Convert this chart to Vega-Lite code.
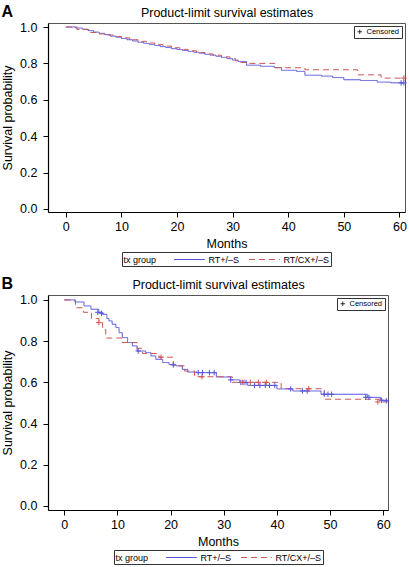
{
  "$schema": "https://vega.github.io/schema/vega-lite/v6.json",
  "padding": {"left": 1, "top": 3, "right": 0, "bottom": 0},
  "background": "white",
  "config": {
    "font": "Liberation Sans",
    "view": {"stroke": "#555", "strokeWidth": 1},
    "axis": {"domainColor": "#000", "tickColor": "#000", "labelColor": "#000", "titleColor": "#000", "labelFontSize": 12.5, "titleFontSize": 12.5, "titleFontWeight": "normal", "grid": false, "tickSize": 5, "domainWidth": 1.2},
    "axisY": {"labelPadding": 6, "titlePadding": 5},
    "axisX": {"labelPadding": 3, "titlePadding": 5},
    "legend": {"layout": {"bottom": {"anchor": "middle"}}},
    "title": {"fontSize": 16, "fontWeight": "bold", "anchor": "start", "frame": "bounds", "color": "#000"},
    "concat": {"spacing": 8}
  },
  "datasets": {
    "A_steps": [
      {"g": "RT+/–S", "m": 0, "s": 1.0}, {"g": "RT+/–S", "m": 1.8, "s": 0.994}, {"g": "RT+/–S", "m": 3, "s": 0.988}, {"g": "RT+/–S", "m": 4, "s": 0.98}, {"g": "RT+/–S", "m": 5, "s": 0.972}, {"g": "RT+/–S", "m": 6, "s": 0.965}, {"g": "RT+/–S", "m": 7, "s": 0.958}, {"g": "RT+/–S", "m": 8, "s": 0.95}, {"g": "RT+/–S", "m": 9, "s": 0.944}, {"g": "RT+/–S", "m": 10, "s": 0.937}, {"g": "RT+/–S", "m": 11, "s": 0.93}, {"g": "RT+/–S", "m": 12, "s": 0.923}, {"g": "RT+/–S", "m": 13, "s": 0.916}, {"g": "RT+/–S", "m": 14, "s": 0.91}, {"g": "RT+/–S", "m": 15, "s": 0.904}, {"g": "RT+/–S", "m": 16, "s": 0.898}, {"g": "RT+/–S", "m": 17, "s": 0.892}, {"g": "RT+/–S", "m": 18, "s": 0.887}, {"g": "RT+/–S", "m": 19, "s": 0.881}, {"g": "RT+/–S", "m": 20, "s": 0.876}, {"g": "RT+/–S", "m": 21, "s": 0.871}, {"g": "RT+/–S", "m": 22, "s": 0.866}, {"g": "RT+/–S", "m": 23, "s": 0.861}, {"g": "RT+/–S", "m": 24, "s": 0.856}, {"g": "RT+/–S", "m": 25, "s": 0.85}, {"g": "RT+/–S", "m": 26, "s": 0.845}, {"g": "RT+/–S", "m": 27, "s": 0.839}, {"g": "RT+/–S", "m": 28, "s": 0.833}, {"g": "RT+/–S", "m": 29, "s": 0.826}, {"g": "RT+/–S", "m": 30, "s": 0.818}, {"g": "RT+/–S", "m": 31, "s": 0.81}, {"g": "RT+/–S", "m": 32.5, "s": 0.79}, {"g": "RT+/–S", "m": 35, "s": 0.784}, {"g": "RT+/–S", "m": 37.5, "s": 0.777}, {"g": "RT+/–S", "m": 38.8, "s": 0.762}, {"g": "RT+/–S", "m": 41.5, "s": 0.756}, {"g": "RT+/–S", "m": 43, "s": 0.735}, {"g": "RT+/–S", "m": 46, "s": 0.73}, {"g": "RT+/–S", "m": 48, "s": 0.722}, {"g": "RT+/–S", "m": 50, "s": 0.71}, {"g": "RT+/–S", "m": 53, "s": 0.706}, {"g": "RT+/–S", "m": 56, "s": 0.697}, {"g": "RT+/–S", "m": 58.5, "s": 0.693}, {"g": "RT+/–S", "m": 60.8, "s": 0.693},
      {"g": "RT/CX+/–S", "m": 0, "s": 1.0}, {"g": "RT/CX+/–S", "m": 2, "s": 0.986}, {"g": "RT/CX+/–S", "m": 4.3, "s": 0.97}, {"g": "RT/CX+/–S", "m": 5.5, "s": 0.962}, {"g": "RT/CX+/–S", "m": 7, "s": 0.956}, {"g": "RT/CX+/–S", "m": 8.5, "s": 0.948}, {"g": "RT/CX+/–S", "m": 10, "s": 0.94}, {"g": "RT/CX+/–S", "m": 11.5, "s": 0.93}, {"g": "RT/CX+/–S", "m": 13, "s": 0.921}, {"g": "RT/CX+/–S", "m": 14.5, "s": 0.912}, {"g": "RT/CX+/–S", "m": 16, "s": 0.903}, {"g": "RT/CX+/–S", "m": 17.5, "s": 0.895}, {"g": "RT/CX+/–S", "m": 19, "s": 0.886}, {"g": "RT/CX+/–S", "m": 20.5, "s": 0.877}, {"g": "RT/CX+/–S", "m": 22, "s": 0.869}, {"g": "RT/CX+/–S", "m": 23.5, "s": 0.86}, {"g": "RT/CX+/–S", "m": 25, "s": 0.852}, {"g": "RT/CX+/–S", "m": 26.5, "s": 0.845}, {"g": "RT/CX+/–S", "m": 28, "s": 0.836}, {"g": "RT/CX+/–S", "m": 29.5, "s": 0.826}, {"g": "RT/CX+/–S", "m": 30.5, "s": 0.815}, {"g": "RT/CX+/–S", "m": 31.5, "s": 0.805}, {"g": "RT/CX+/–S", "m": 33, "s": 0.8}, {"g": "RT/CX+/–S", "m": 37.6, "s": 0.776}, {"g": "RT/CX+/–S", "m": 43, "s": 0.765}, {"g": "RT/CX+/–S", "m": 52.5, "s": 0.737}, {"g": "RT/CX+/–S", "m": 56.7, "s": 0.719}, {"g": "RT/CX+/–S", "m": 60.8, "s": 0.719}
    ],
    "A_cens": [
      {"g": "RT+/–S", "c": "Censored", "m": 60.3, "s": 0.693}, {"g": "RT+/–S", "c": "Censored", "m": 60.8, "s": 0.693}, {"g": "RT/CX+/–S", "c": "Censored", "m": 60.8, "s": 0.719}
    ],
    "B_steps": [
      {"g": "RT+/–S", "m": 0, "s": 1.0}, {"g": "RT+/–S", "m": 2, "s": 0.99}, {"g": "RT+/–S", "m": 3.7, "s": 0.971}, {"g": "RT+/–S", "m": 5, "s": 0.955}, {"g": "RT+/–S", "m": 6.5, "s": 0.94}, {"g": "RT+/–S", "m": 7.2, "s": 0.93}, {"g": "RT+/–S", "m": 8, "s": 0.91}, {"g": "RT+/–S", "m": 8.4, "s": 0.898}, {"g": "RT+/–S", "m": 9, "s": 0.882}, {"g": "RT+/–S", "m": 9.7, "s": 0.866}, {"g": "RT+/–S", "m": 10.3, "s": 0.841}, {"g": "RT+/–S", "m": 10.9, "s": 0.817}, {"g": "RT+/–S", "m": 11.9, "s": 0.793}, {"g": "RT+/–S", "m": 12.8, "s": 0.777}, {"g": "RT+/–S", "m": 13.7, "s": 0.752}, {"g": "RT+/–S", "m": 15.3, "s": 0.744}, {"g": "RT+/–S", "m": 16.3, "s": 0.728}, {"g": "RT+/–S", "m": 17.2, "s": 0.712}, {"g": "RT+/–S", "m": 18.5, "s": 0.696}, {"g": "RT+/–S", "m": 19.7, "s": 0.687}, {"g": "RT+/–S", "m": 21, "s": 0.68}, {"g": "RT+/–S", "m": 22.2, "s": 0.663}, {"g": "RT+/–S", "m": 23.2, "s": 0.65}, {"g": "RT+/–S", "m": 25, "s": 0.647}, {"g": "RT+/–S", "m": 28.6, "s": 0.626}, {"g": "RT+/–S", "m": 31.3, "s": 0.612}, {"g": "RT+/–S", "m": 33, "s": 0.599}, {"g": "RT+/–S", "m": 34.5, "s": 0.585}, {"g": "RT+/–S", "m": 40, "s": 0.568}, {"g": "RT+/–S", "m": 43, "s": 0.558}, {"g": "RT+/–S", "m": 48.3, "s": 0.542}, {"g": "RT+/–S", "m": 57, "s": 0.527}, {"g": "RT+/–S", "m": 59.5, "s": 0.513}, {"g": "RT+/–S", "m": 60.8, "s": 0.51},
      {"g": "RT/CX+/–S", "m": 0, "s": 1.0}, {"g": "RT/CX+/–S", "m": 2.1, "s": 0.962}, {"g": "RT/CX+/–S", "m": 3.6, "s": 0.94}, {"g": "RT/CX+/–S", "m": 5.1, "s": 0.91}, {"g": "RT/CX+/–S", "m": 6.5, "s": 0.89}, {"g": "RT/CX+/–S", "m": 7.2, "s": 0.856}, {"g": "RT/CX+/–S", "m": 7.8, "s": 0.815}, {"g": "RT/CX+/–S", "m": 10.8, "s": 0.793}, {"g": "RT/CX+/–S", "m": 13.7, "s": 0.765}, {"g": "RT/CX+/–S", "m": 14.7, "s": 0.74}, {"g": "RT/CX+/–S", "m": 17.8, "s": 0.722}, {"g": "RT/CX+/–S", "m": 20.5, "s": 0.68}, {"g": "RT/CX+/–S", "m": 22.6, "s": 0.655}, {"g": "RT/CX+/–S", "m": 24.5, "s": 0.627}, {"g": "RT/CX+/–S", "m": 31.6, "s": 0.6}, {"g": "RT/CX+/–S", "m": 40.8, "s": 0.569}, {"g": "RT/CX+/–S", "m": 48.9, "s": 0.518}, {"g": "RT/CX+/–S", "m": 59.5, "s": 0.505}, {"g": "RT/CX+/–S", "m": 60.8, "s": 0.505}
    ],
    "B_cens": [
      {"g": "RT+/–S", "c": "Censored", "m": 6.3, "s": 0.94}, {"g": "RT+/–S", "c": "Censored", "m": 7, "s": 0.935}, {"g": "RT+/–S", "c": "Censored", "m": 13.9, "s": 0.752}, {"g": "RT+/–S", "c": "Censored", "m": 20.5, "s": 0.684}, {"g": "RT+/–S", "c": "Censored", "m": 25.2, "s": 0.647}, {"g": "RT+/–S", "c": "Censored", "m": 26, "s": 0.647}, {"g": "RT+/–S", "c": "Censored", "m": 27.3, "s": 0.647}, {"g": "RT+/–S", "c": "Censored", "m": 28.2, "s": 0.647}, {"g": "RT+/–S", "c": "Censored", "m": 31.3, "s": 0.612}, {"g": "RT+/–S", "c": "Censored", "m": 33.2, "s": 0.599}, {"g": "RT+/–S", "c": "Censored", "m": 33.8, "s": 0.599}, {"g": "RT+/–S", "c": "Censored", "m": 34.2, "s": 0.599}, {"g": "RT+/–S", "c": "Censored", "m": 35.8, "s": 0.585}, {"g": "RT+/–S", "c": "Censored", "m": 36.8, "s": 0.585}, {"g": "RT+/–S", "c": "Censored", "m": 37.8, "s": 0.585}, {"g": "RT+/–S", "c": "Censored", "m": 38.6, "s": 0.585}, {"g": "RT+/–S", "c": "Censored", "m": 39.6, "s": 0.585}, {"g": "RT+/–S", "c": "Censored", "m": 42.6, "s": 0.568}, {"g": "RT+/–S", "c": "Censored", "m": 44.8, "s": 0.558}, {"g": "RT+/–S", "c": "Censored", "m": 45.7, "s": 0.558}, {"g": "RT+/–S", "c": "Censored", "m": 48.9, "s": 0.542}, {"g": "RT+/–S", "c": "Censored", "m": 49.6, "s": 0.542}, {"g": "RT+/–S", "c": "Censored", "m": 50.3, "s": 0.542}, {"g": "RT+/–S", "c": "Censored", "m": 56.7, "s": 0.527}, {"g": "RT+/–S", "c": "Censored", "m": 57.3, "s": 0.527}, {"g": "RT+/–S", "c": "Censored", "m": 59.7, "s": 0.513}, {"g": "RT+/–S", "c": "Censored", "m": 60.6, "s": 0.51},
      {"g": "RT/CX+/–S", "c": "Censored", "m": 6.5, "s": 0.89}, {"g": "RT/CX+/–S", "c": "Censored", "m": 18.2, "s": 0.722}, {"g": "RT/CX+/–S", "c": "Censored", "m": 25.9, "s": 0.627}, {"g": "RT/CX+/–S", "c": "Censored", "m": 33.5, "s": 0.6}, {"g": "RT/CX+/–S", "c": "Censored", "m": 35, "s": 0.6}, {"g": "RT/CX+/–S", "c": "Censored", "m": 36.5, "s": 0.6}, {"g": "RT/CX+/–S", "c": "Censored", "m": 38, "s": 0.6}, {"g": "RT/CX+/–S", "c": "Censored", "m": 46, "s": 0.569}, {"g": "RT/CX+/–S", "c": "Censored", "m": 59, "s": 0.505}
    ]
  },
  "vconcat": [
    {
      "width": 357, "height": 189,
      "title": {"text": "A", "offset": -14},
      "layer": [
        {
          "data": {"name": "A_steps"},
          "mark": {"type": "line", "interpolate": "step-after", "strokeWidth": 1},
          "encoding": {
            "x": {"field": "m", "type": "quantitative", "scale": {"domain": [-3.2, 61], "nice": false, "zero": false}, "axis": {"orient": "bottom", "values": [0, 10, 20, 30, 40, 50, 60], "title": "Months"}},
            "y": {"field": "s", "type": "quantitative", "scale": {"domain": [-0.017, 1.022], "nice": false, "zero": false}, "axis": {"values": [0, 0.2, 0.4, 0.6, 0.8, 1], "format": ".1f", "title": "Survival probability"}},
            "color": {"field": "g", "type": "nominal", "scale": {"domain": ["RT+/–S", "RT/CX+/–S"], "range": ["#5555dd", "#cc5555"]}, "legend": {"title": "tx group", "orient": "bottom", "direction": "horizontal", "titleOrient": "left", "titleAnchor": "middle", "titleBaseline": "middle", "strokeColor": "#333", "padding": 1.5, "symbolType": "M-1,0H4.6", "symbolSize": 121, "symbolStrokeWidth": 1, "labelFontSize": 9, "titleFontSize": 9, "titleFontWeight": "normal", "offset": 2, "columnPadding": 7, "labelOffset": 23, "titlePadding": 17}},
            "strokeDash": {"field": "g", "type": "nominal", "scale": {"domain": ["RT+/–S", "RT/CX+/–S"], "range": [[1, 0], [6, 4]]}, "legend": {"title": "tx group", "orient": "bottom", "direction": "horizontal", "titleOrient": "left", "titleAnchor": "middle", "titleBaseline": "middle", "strokeColor": "#333", "padding": 1.5, "symbolType": "M-1,0H4.6", "symbolSize": 121, "symbolStrokeWidth": 1, "labelFontSize": 9, "titleFontSize": 9, "titleFontWeight": "normal", "offset": 2, "columnPadding": 7, "labelOffset": 23, "titlePadding": 17}}
          }
        },
        {
          "data": {"name": "A_cens"},
          "mark": {"type": "point", "filled": false, "size": 30, "strokeWidth": 1, "opacity": 1},
          "encoding": {
            "x": {"field": "m", "type": "quantitative", "scale": {"domain": [-3.2, 61], "nice": false, "zero": false}, "axis": {"orient": "top", "title": "Product-limit survival estimates", "labels": false, "ticks": false, "domain": false, "titlePadding": 4, "titleFontSize": 12.5}},
            "y": {"field": "s", "type": "quantitative", "scale": {"domain": [-0.017, 1.022], "nice": false, "zero": false}, "axis": {"values": [0, 0.2, 0.4, 0.6, 0.8, 1], "format": ".1f", "title": "Survival probability"}},
            "color": {"field": "g", "type": "nominal", "legend": null},
            "shape": {"field": "c", "type": "nominal", "scale": {"range": ["M-1,0H1M0,-1V1"]}, "legend": {"title": null, "orient": "top-right", "offset": 3, "strokeColor": "#333", "padding": 2, "labelFontSize": 7.5, "symbolSize": 20, "symbolStrokeColor": "#000", "symbolFillColor": "transparent", "symbolStrokeWidth": 0.8, "labelOffset": 3}}
          }
        }
      ],
      "resolve": {"axis": {"x": "independent"}}
    },
    {
      "width": 340, "height": 215,
      "title": {"text": "B", "offset": -14},
      "layer": [
        {
          "data": {"name": "B_steps"},
          "mark": {"type": "line", "interpolate": "step-after", "strokeWidth": 1},
          "encoding": {
            "x": {"field": "m", "type": "quantitative", "scale": {"domain": [-3.07, 60.9], "nice": false, "zero": false}, "axis": {"orient": "bottom", "values": [0, 10, 20, 30, 40, 50, 60], "title": "Months"}},
            "y": {"field": "s", "type": "quantitative", "scale": {"domain": [-0.02, 1.024], "nice": false, "zero": false}, "axis": {"values": [0, 0.2, 0.4, 0.6, 0.8, 1], "format": ".1f", "title": "Survival probability"}},
            "color": {"field": "g", "type": "nominal", "scale": {"domain": ["RT+/–S", "RT/CX+/–S"], "range": ["#5555dd", "#cc5555"]}, "legend": {"title": "tx group", "orient": "bottom", "direction": "horizontal", "titleOrient": "left", "titleAnchor": "middle", "titleBaseline": "middle", "strokeColor": "#333", "padding": 1.5, "symbolType": "M-1,0H4.6", "symbolSize": 121, "symbolStrokeWidth": 1, "labelFontSize": 9, "titleFontSize": 9, "titleFontWeight": "normal", "offset": 2, "columnPadding": 7, "labelOffset": 23, "titlePadding": 17}},
            "strokeDash": {"field": "g", "type": "nominal", "scale": {"domain": ["RT+/–S", "RT/CX+/–S"], "range": [[1, 0], [6, 4]]}, "legend": {"title": "tx group", "orient": "bottom", "direction": "horizontal", "titleOrient": "left", "titleAnchor": "middle", "titleBaseline": "middle", "strokeColor": "#333", "padding": 1.5, "symbolType": "M-1,0H4.6", "symbolSize": 121, "symbolStrokeWidth": 1, "labelFontSize": 9, "titleFontSize": 9, "titleFontWeight": "normal", "offset": 2, "columnPadding": 7, "labelOffset": 23, "titlePadding": 17}}
          }
        },
        {
          "data": {"name": "B_cens"},
          "mark": {"type": "point", "filled": false, "size": 30, "strokeWidth": 1, "opacity": 1},
          "encoding": {
            "x": {"field": "m", "type": "quantitative", "scale": {"domain": [-3.07, 60.9], "nice": false, "zero": false}, "axis": {"orient": "top", "title": "Product-limit survival estimates", "labels": false, "ticks": false, "domain": false, "titlePadding": 4, "titleFontSize": 12.5}},
            "y": {"field": "s", "type": "quantitative", "scale": {"domain": [-0.02, 1.024], "nice": false, "zero": false}, "axis": {"values": [0, 0.2, 0.4, 0.6, 0.8, 1], "format": ".1f", "title": "Survival probability"}},
            "color": {"field": "g", "type": "nominal", "legend": null},
            "shape": {"field": "c", "type": "nominal", "scale": {"range": ["M-1,0H1M0,-1V1"]}, "legend": {"title": null, "orient": "top-right", "offset": 3, "strokeColor": "#333", "padding": 2, "labelFontSize": 7.5, "symbolSize": 20, "symbolStrokeColor": "#000", "symbolFillColor": "transparent", "symbolStrokeWidth": 0.8, "labelOffset": 3}}
          }
        }
      ],
      "resolve": {"axis": {"x": "independent"}}
    }
  ],
  "resolve": {
    "scale": {"x": "independent", "y": "independent", "color": "shared", "strokeDash": "shared", "shape": "shared"},
    "legend": {"color": "independent", "strokeDash": "independent", "shape": "independent"}
  }
}
